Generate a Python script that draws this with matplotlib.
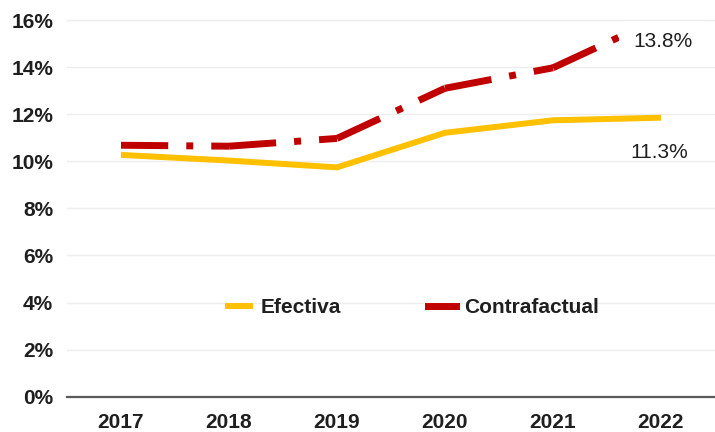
import matplotlib.pyplot as plt
from matplotlib.ticker import FuncFormatter

plt.rcParams["font.family"] = ["Liberation Sans", "DejaVu Sans"]

years = ["2017", "2018", "2019", "2020", "2021", "2022"]
efectiva = [10.27, 10.03, 9.74, 11.21, 11.74, 11.85]
contrafactual = [10.68, 10.64, 10.97, 13.1, 13.97, 16.1]
end_labels = {"Contrafactual": "13.8%", "Efectiva": "11.3%"}

yellow = "#FFC000"
red = "#C00000"
grid_color = "#EDEDED"
text_color = "#1F1F1F"
fs = 15
y_max = 16

fig = plt.figure(figsize=(7.15, 4.32), dpi=100)
ax = fig.add_axes([67 / 715, 35.3 / 432, 648 / 715, 376.7 / 432])

x = list(range(len(years)))

ax.plot(x, efectiva, color=yellow, lw=4.3, solid_capstyle="butt",
        solid_joinstyle="miter", label="Efectiva", zorder=3)

# dash pattern restarts at every point, so draw the series segment by segment
for i in range(len(x) - 1):
    ax.plot(x[i:i + 2], contrafactual[i:i + 2], color=red, lw=5.0,
            dashes=(6.8, 2.6, 1.0, 2.6), dash_capstyle="butt", zorder=3)
ax.plot([], [], color=red, lw=5.0, label="Contrafactual")

# white-filled data label, drawn over the line like a chart label box
ax.text(5.02, 15.1, end_labels["Contrafactual"], ha="center", va="center",
        fontsize=fs, color=text_color, zorder=4,
        bbox=dict(boxstyle="square,pad=0.68", fc="white", ec="none"))
ax.text(4.98, 10.38, end_labels["Efectiva"], ha="center", va="center",
        fontsize=fs, color=text_color, zorder=4)

ax.set_xlim(-0.5, len(years) - 0.5)
ax.set_ylim(0, y_max)
ax.set_yticks(range(0, y_max + 1, 2))
ax.yaxis.set_major_formatter(FuncFormatter(lambda v, _: f"{v:.0f}%"))
ax.set_xticks(x)
ax.set_xticklabels(years)

for lbl in ax.get_xticklabels() + ax.get_yticklabels():
    lbl.set_fontweight("bold")
    lbl.set_fontsize(fs)
    lbl.set_color(text_color)

ax.tick_params(axis="both", length=0)
ax.tick_params(axis="y", pad=10)
ax.tick_params(axis="x", pad=12)
ax.grid(axis="y", color=grid_color, lw=1.0)
ax.set_axisbelow(True)
# keep the top gridline visible over the label box
ax.axhline(y_max, color=grid_color, lw=1.0, zorder=5, clip_on=False)
for side in ["top", "right", "left"]:
    ax.spines[side].set_visible(False)
ax.spines["bottom"].set_color("#595959")
ax.spines["bottom"].set_linewidth(1.6)

leg = ax.legend(loc="center", bbox_to_anchor=(0.532, 0.237), ncol=2,
                frameon=False, handlelength=1.35, handletextpad=0.35,
                columnspacing=4.2, prop={"weight": "bold", "size": fs})
for t in leg.get_texts():
    t.set_color(text_color)

fig.savefig("out.png", dpi=100)
